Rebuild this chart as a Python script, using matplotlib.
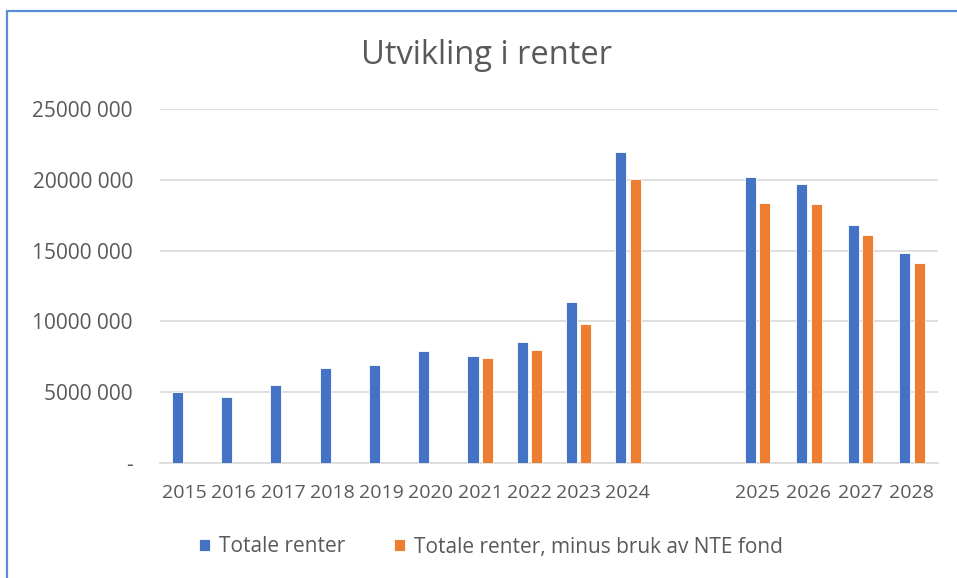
import numpy as np
import matplotlib
matplotlib.use("Agg")
import matplotlib.pyplot as plt
from matplotlib.ticker import FuncFormatter
from matplotlib.patches import Rectangle

plt.rcParams['font.family'] = ['Open Sans', 'DejaVu Sans']

years_before = ['2015', '2016', '2017', '2018', '2019', '2020', '2021', '2022', '2023', '2024']
years_after = ['2025', '2026', '2027', '2028']

# Totale renter
total_before = [5.00e6, 4.67e6, 5.51e6, 6.74e6, 6.93e6, 7.94e6, 7.56e6, 8.51e6, 11.34e6, 21.98e6]
total_after = [20.21e6, 19.67e6, 16.80e6, 14.80e6]

# Totale renter, minus bruk av NTE fond (starts in 2021)
net_before = [np.nan] * 6 + [7.38e6, 7.97e6, 9.80e6, 20.05e6]
net_after = [18.33e6, 18.28e6, 16.09e6, 14.11e6]

blue = '#4472C4'
orange = '#ED7D31'
grey = '#595959'

labels = years_before + years_after
total = total_before + total_after
net = net_before + net_after

# the forecast years sit after a gap and are spaced a bit wider
x = np.concatenate([np.arange(len(years_before)),
                    11.63 + 1.045 * np.arange(len(years_after))])

fig = plt.figure(figsize=(9.57, 5.78), dpi=100)
ax = fig.add_axes([160 / 957, 1 - 463 / 578, (938 - 160) / 957, (463 - 109) / 578])

w = 0.225
off = 0.146
ax.bar(x - off, total, width=w, color=blue, edgecolor='white', linewidth=0.6,
       label='Totale renter', zorder=3)
ax.bar(x + off, net, width=w, color=orange, edgecolor='white', linewidth=0.6,
       label='Totale renter, minus bruk av NTE fond', zorder=3)

ax.set_xlim(-0.5, x[-1] + 0.53)
ax.set_ylim(0, 25e6)
ax.set_yticks(np.arange(0, 25e6 + 1, 5e6))
ax.yaxis.set_major_formatter(FuncFormatter(
    lambda v, p: '-' if v == 0 else '{:d} {:03d}'.format(int(v) // 1000, 0)))
ax.set_xticks(x)
ax.set_xticklabels(labels)

ax.grid(axis='y', color='#d9d9d9', linewidth=1.2, zorder=0)
for s in ['top', 'right', 'left']:
    ax.spines[s].set_visible(False)
ax.spines['bottom'].set_color('#d9d9d9')
ax.spines['bottom'].set_linewidth(1.2)
ax.tick_params(axis='both', length=0, colors=grey)
ax.tick_params(axis='y', pad=19.5, labelsize=15)
ax.tick_params(axis='x', pad=15, labelsize=14)

fig.text(487 / 957, 1 - 55 / 578, 'Utvikling i renter', ha='center', va='center',
         fontsize=23.5, color=grey)

fig.legend(loc='center', bbox_to_anchor=(491 / 957, 1 - 547 / 578), ncol=2,
           frameon=False, fontsize=15, labelcolor=grey, handlelength=0.55,
           handleheight=0.55, handletextpad=0.45, columnspacing=2.3)

# blue chart frame
fig.add_artist(Rectangle((6.5 / 957, -0.05), 1.2, 1 - 10.5 / 578 + 0.05,
                         transform=fig.transFigure, fill=False,
                         edgecolor='#5B8BD9', linewidth=1.6))

fig.savefig('out.png', dpi=100)
